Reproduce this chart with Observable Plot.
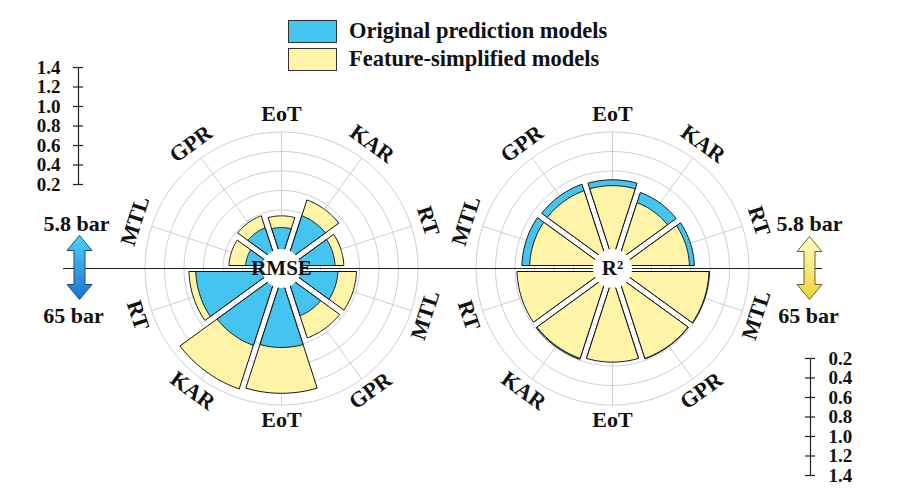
<!DOCTYPE html>
<html>
<head>
<meta charset="utf-8">
<script src="https://cdn.jsdelivr.net/npm/d3@7"></script>
<script src="https://cdn.jsdelivr.net/npm/@observablehq/plot@0.6"></script>
<style>
  body { margin: 0; background: #fff; }
  #wrap { position: relative; width: 919px; height: 499px; font-family: "Liberation Serif", "Times New Roman", serif; }
  #legend { position: absolute; left: 288px; top: 17px; }
  .item { display: flex; align-items: center; height: 28px; }
  .sw { width: 49px; height: 23px; border: 1px solid #333; box-sizing: border-box; margin-right: 12px; }
  .lab { font-size: 22.5px; font-weight: bold; color: #111; white-space: nowrap; }
</style>
</head>
<body>
<div id="wrap">
  <div id="chart"></div>
  <div id="legend"></div>
</div>
<script>
// ---------------- data ----------------
const models = ["MTL", "GPR", "EoT", "KAR", "RT"];
const pressures = ["5.8 bar", "65 bar"];
const seriesNames = ["Original prediction models", "Feature-simplified models"];
const metrics = ["RMSE", "R²"];

// RMSE, 5.8 bar (upper half) and 65 bar (lower half)
const rmseOriginal58   = [0.37, 0.45, 0.42, 0.58, 0.55];
const rmseSimplified58 = [0.54, 0.58, 0.54, 0.75, 0.64];
const rmseOriginal65   = [0.58, 0.52, 0.81, 0.84, 0.88];
const rmseSimplified65 = [0.77, 0.76, 1.28, 1.31, 0.95];
// R2
const r2Original58     = [0.93, 0.92, 0.91, 0.83, 0.84];
const r2Simplified58   = [0.85, 0.85, 0.85, 0.72, 0.79];
const r2Original65     = [0.995, 0.985, 0.95, 0.99, 0.97];
const r2Simplified65   = [0.99, 0.98, 0.96, 0.98, 0.98];

const scaleTicks = [0.2, 0.4, 0.6, 0.8, 1.0, 1.2, 1.4];

// ---------------- style / layout ----------------
const colors = ["#46C4F0", "#FFF4A8"];
const drawOrder = [[1, 0], [0, 1]];   // RMSE: simplified behind; R2: original behind
const PX = 97.5;                 // pixels per value unit
const W = 919, H = 499;
const cxL = 281, cxR = 612, cy = 268;   // pixel centres
const centers = [0, (cxR - cxL) / PX];   // in value units
const hole = 0.2;
const halfGap = 3 / PX;
const labelR = 1.58;

const toUx = px => (px - cxL) / PX;
const toUy = py => (cy - py) / PX;

// ---------------- geometry helpers ----------------
const rad = d => d * Math.PI / 180;
const polar = (cx, t, r) => ({x: cx + r * Math.sin(t), y: r * Math.cos(t)});

function wedge(cx, angDeg, r0, r1) {
  const a = rad(angDeg), h = rad(18);
  const side = (r, s) => a + s * (h - Math.asin(halfGap / r));
  const pts = [polar(cx, side(r0, -1), r0)];
  const aL = side(r1, -1), aR = side(r1, 1);
  for (let i = 0; i <= 30; i++) pts.push(polar(cx, aL + (aR - aL) * i / 30, r1));
  pts.push(polar(cx, side(r0, 1), r0));
  pts.push(pts[0]);
  return pts;
}

// wedge table
const sets = [
  [[rmseOriginal58, rmseSimplified58], [rmseOriginal65, rmseSimplified65]],
  [[r2Original58, r2Simplified58], [r2Original65, r2Simplified65]]
];
const wedgePts = [];
let wid = 0;
sets.forEach((chart, ci) => {
  chart.forEach((half, hi) => {
    models.forEach((m, mi) => {
      const ang = -72 + 36 * mi + 180 * hi;
      drawOrder[ci].forEach(si => {
        wid++;
        wedge(centers[ci], ang, hole - 0.01, half[si][mi]).forEach(p =>
          wedgePts.push({...p, id: wid, fill: colors[si]}));
      });
    });
  });
});

// grid rings and spokes
const ringVals = [0.4, 0.6, 0.8, 1.0, 1.2, 1.4];
const ringPts = [];
centers.forEach((cx, ci) => ringVals.forEach((r, ri) => {
  for (let i = 0; i <= 180; i++) ringPts.push({...polar(cx, 2 * Math.PI * i / 180, r), id: ci * 10 + ri});
}));
const spokes = [];
centers.forEach(cx => d3.range(10).forEach(k => {
  const p = polar(cx, rad(36 * k), 1.4);
  spokes.push({x1: cx, y1: 0, x2: p.x, y2: p.y});
}));

// category labels
const catLabels = [];
centers.forEach(cx => [0, 1].forEach(hi => models.forEach((m, mi) => {
  const ang = -72 + 36 * mi + 180 * hi;
  const p = polar(cx, rad(ang), hi ? labelR - 0.03 : labelR);
  catLabels.push({...p, text: m, rotate: ang - 180 * hi});
})));

// scale bars
const leftBar = {x: toUx(78), off: 0.6615};
const rightBar = {x: toUx(810), off: 0.723};
const leftTicks = scaleTicks.map(v => ({v, y: v + leftBar.off}));
const rightTicks = scaleTicks.map(v => ({v, y: -(v + rightBar.off)}));
const tickLen = 5 / PX;

// arrows
function arrowPts(cxPx, topPx, botPx, id) {
  const hw = 12.5, sw = 5.5, hl = 15;
  const raw = [[0, topPx], [hw, topPx + hl], [sw, topPx + hl], [sw, botPx - hl], [hw, botPx - hl],
               [0, botPx], [-hw, botPx - hl], [-sw, botPx - hl], [-sw, topPx + hl], [-hw, topPx + hl], [0, topPx]];
  return raw.map(([dx, py]) => ({x: toUx(cxPx + dx), y: toUy(py), id}));
}
const arrowL = arrowPts(79, 235, 299, "L");
const arrowR = arrowPts(809, 236, 299, "R");

const pressureLabels = [
  {x: toUx(76), y: toUy(223), text: pressures[0]},
  {x: toUx(73), y: toUy(315), text: pressures[1]},
  {x: toUx(809), y: toUy(223), text: pressures[0]},
  {x: toUx(808), y: toUy(315), text: pressures[1]}
];

const font = "Liberation Serif, Times New Roman, serif";

const plot = Plot.plot({
  width: W, height: H, margin: 0,
  x: {domain: [toUx(0), toUx(W)], axis: null},
  y: {domain: [toUy(H), toUy(0)], axis: null},
  color: {type: "identity"},
  style: {fontFamily: font, background: "white", overflow: "visible"},
  marks: [
    Plot.line(ringPts, {x: "x", y: "y", z: "id", stroke: "#cfcfcf", strokeWidth: 1}),
    Plot.link(spokes, {x1: "x1", y1: "y1", x2: "x2", y2: "y2", stroke: "#cfcfcf", strokeWidth: 1}),
    Plot.ruleY([0], {x1: toUx(63), x2: toUx(822), stroke: "#222", strokeWidth: 1.2}),
    Plot.line(wedgePts, {x: "x", y: "y", z: "id", fill: "fill", stroke: "#111", strokeWidth: 1, curve: "linear"}),
    Plot.dot(centers, {x: d => d, y: () => 0, r: hole * PX, fill: "white", stroke: "none"}),
    Plot.text(metrics, {x: (d, i) => centers[i], y: () => 0, text: d => d, fontSize: 21, fontWeight: "bold", fill: "#111"}),
    Plot.text(catLabels, {x: "x", y: "y", text: "text", rotate: "rotate", fontSize: 22, fontWeight: "bold", fill: "#111"}),
    // left scale bar
    Plot.ruleX([leftBar.x], {y1: leftTicks[0].y, y2: leftTicks[6].y, stroke: "#222", strokeWidth: 1.2}),
    Plot.ruleY(leftTicks, {y: "y", x1: leftBar.x - tickLen, x2: leftBar.x + tickLen, stroke: "#222", strokeWidth: 1.2}),
    Plot.text(leftTicks, {x: toUx(60), y: "y", text: d => d.v.toFixed(1), textAnchor: "end", fontSize: 19, fontWeight: "bold", fill: "#111"}),
    // right scale bar
    Plot.ruleX([rightBar.x], {y1: rightTicks[0].y, y2: rightTicks[6].y, stroke: "#222", strokeWidth: 1.2}),
    Plot.ruleY(rightTicks, {y: "y", x1: rightBar.x - tickLen, x2: rightBar.x + tickLen, stroke: "#222", strokeWidth: 1.2}),
    Plot.text(rightTicks, {x: toUx(828), y: "y", text: d => d.v.toFixed(1), textAnchor: "start", fontSize: 19, fontWeight: "bold", fill: "#111"}),
    // arrows
    Plot.line(arrowL, {x: "x", y: "y", fill: "url(#gradBlue)", stroke: "#1a4f7a", strokeWidth: 1, curve: "linear"}),
    Plot.line(arrowR, {x: "x", y: "y", fill: "url(#gradYellow)", stroke: "#6b6330", strokeWidth: 1, curve: "linear"}),
    Plot.text(pressureLabels, {x: "x", y: "y", text: "text", fontSize: 22, fontWeight: "bold", fill: "#111"})
  ]
});

// gradients
const svg = d3.select(plot);
const defs = svg.insert("defs", ":first-child");
function grad(id, c0, c1) {
  const g = defs.append("linearGradient").attr("id", id).attr("x1", 0).attr("y1", 0).attr("x2", 0).attr("y2", 1);
  g.append("stop").attr("offset", "0%").attr("stop-color", c0);
  g.append("stop").attr("offset", "100%").attr("stop-color", c1);
}
grad("gradBlue", "#4CD3F5", "#1C70D2");
grad("gradYellow", "#FFFBCB", "#F2D52E");

document.getElementById("chart").appendChild(plot);

// legend
const legend = document.getElementById("legend");
seriesNames.forEach((name, i) => {
  const item = document.createElement("div");
  item.className = "item";
  item.innerHTML = `<div class="sw" style="background:${colors[i]}"></div><span class="lab">${name}</span>`;
  legend.appendChild(item);
});
</script>
</body>
</html>
